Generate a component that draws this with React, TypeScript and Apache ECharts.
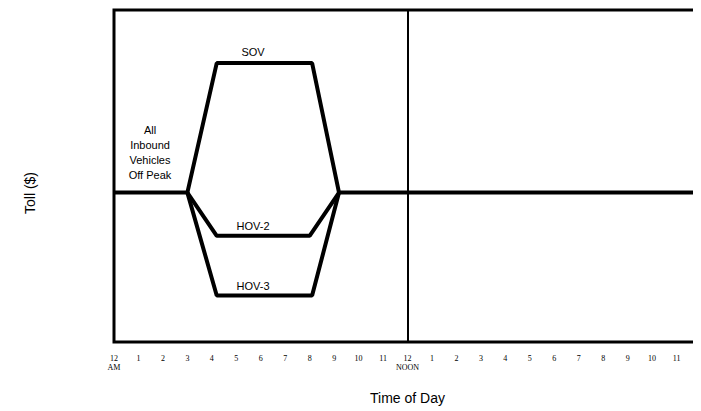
import React, { useEffect, useRef } from "react";
import * as echarts from "echarts";

const hourLabels = ["12\nAM", "1", "2", "3", "4", "5", "6", "7", "8", "9", "10", "11", "12\nNOON", "1", "2", "3", "4", "5", "6", "7", "8", "9", "10", "11"];
const sovHours = [0, 3, 4.2, 8.1, 9.2, 24];
const sovValues = [45, 45, 84, 84, 45, 45];
const hov2Hours = [3, 4.2, 8.0, 9.2];
const hov2Values = [45, 32, 32, 45];
const hov3Hours = [3, 4.2, 8.1, 9.2];
const hov3Values = [45, 14, 14, 45];
const noonHour = 12;

const pair = (xs: number[], ys: number[]) => xs.map((x, i) => [x, ys[i]]);

export default function App() {
  const ref = useRef<HTMLDivElement>(null);
  useEffect(() => {
    if (!ref.current) return;
    const chart = echarts.init(ref.current, null, { renderer: "svg" });
    const lineStyle = { color: "#000", width: 4 };
    const txt = (text: string, x: number, y: number, extra: any = {}) => ({
      type: "text", x, y,
      style: { text, font: "11px Liberation Sans", fill: "#000", align: "center", verticalAlign: "middle", ...extra },
    });
    chart.setOption({
      animation: false,
      backgroundColor: "#fff",
      grid: { left: 106, right: -3, top: 2, bottom: 69, show: true, borderColor: "#000", borderWidth: 3, backgroundColor: "transparent" },
      xAxis: {
        type: "value", min: 0, max: 24, interval: 1,
        axisLine: { show: false }, axisTick: { show: false }, splitLine: { show: false },
        axisLabel: {
          margin: 12,
          fontFamily: "Liberation Serif", fontSize: 8, color: "#000", lineHeight: 9,
          showMaxLabel: false,
          formatter: (v: number) => (v < 24 ? hourLabels[v] : ""),
        },
        name: "Time of Day", nameLocation: "middle", nameGap: 49,
        nameTextStyle: { fontFamily: "Liberation Sans", fontSize: 14, color: "#000" },
      },
      yAxis: {
        type: "value", min: 0, max: 100,
        axisLine: { show: false }, axisTick: { show: false }, splitLine: { show: false }, axisLabel: { show: false },
      },
      series: [
        {
          type: "line", data: pair(sovHours, sovValues), symbol: "none", lineStyle, z: 3,
          markLine: {
            silent: true, symbol: "none", label: { show: false },
            lineStyle: { color: "#000", width: 2, type: "solid" },
            data: [{ xAxis: noonHour }],
          },
        },
        { type: "line", data: pair(hov2Hours, hov2Values), symbol: "none", lineStyle, z: 3 },
        { type: "line", data: pair(hov3Hours, hov3Values), symbol: "none", lineStyle, z: 3 },
      ],
      graphic: [
        txt("SOV", 245, 44),
        txt("HOV-2", 245, 218),
        txt("HOV-3", 245, 278),
        txt("All\nInbound\nVehicles\nOff Peak", 142, 144, { lineHeight: 15 }),
        { type: "text", x: 22, y: 185, rotation: Math.PI / 2, style: { text: "Toll ($)", font: "14px Liberation Sans", fill: "#000", align: "center", verticalAlign: "middle" } },
      ],
    });
    return () => chart.dispose();
  }, []);
  return <div ref={ref} style={{ width: 693, height: 403 }} />;
}
